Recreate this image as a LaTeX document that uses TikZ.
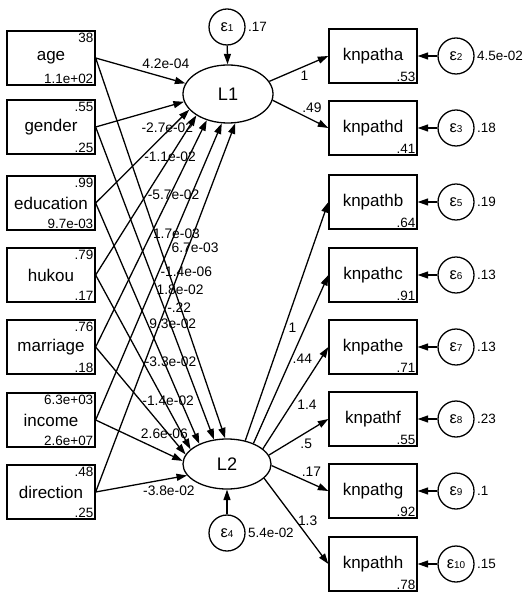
\documentclass[tikz,border=0pt]{standalone}
\usepackage{fontspec}
\setmainfont{Liberation Sans}
\usetikzlibrary{arrows.meta,shapes.geometric}

\newcommand\namefont{\fontsize{14.5}{16}\selectfont}
\newcommand\numfont{\fontsize{11.5}{13}\selectfont}
\newcommand\coeffont{\fontsize{11.8}{13}\selectfont}
\newcommand\epsl[1]{{\fontsize{14}{15}\selectfont ε}{\fontsize{8.5}{9}\selectfont #1}}

\begin{document}
\begin{tikzpicture}[x=0.03cm, y=-0.03cm, line width=1.1pt,
    >={Triangle[length=9pt,width=6pt]},
    obs/.style={draw, minimum width=2.64cm, minimum height=1.62cm, inner sep=0pt, font=\namefont},
    lat/.style={draw, ellipse, inner sep=0pt, font=\fontsize{15.5}{17}\selectfont},
    err/.style={draw, circle, minimum size=1.08cm, inner sep=0pt},
    num/.style={font=\numfont, inner sep=1.5pt},
    coef/.style={font=\coeffont, pos=0.5, inner sep=1pt}]
  \useasboundingbox (0,0) rectangle (529,599);
  % observed exogenous variables
  \foreach \nm/\y/\mean/\var in {age/58/38/1.1e+02, gender/127/.55/.25,
      education/203/.99/9.7e-03, hukou/275/.79/.17, marriage/347/.76/.18,
      income/420/6.3e+03/2.6e+07, direction/492/.48/.25}
    \node[obs, label={[num,anchor=north east]north east:\mean},
      label={[num,anchor=south east]south east:\var}] (\nm) at (51,\y) {\nm};
  % latent variables and their errors
  \node[lat, minimum width=2.7cm, minimum height=1.74cm] (L1) at (228,94) {L1};
  \node[lat, minimum width=2.64cm, minimum height=1.5cm] (L2) at (227,464) {L2};
  \node[err, label={[num]right:.17}] (e1) at (227,27) {\epsl{1}};
  \node[err, label={[num]right:5.4e-02}] (e4) at (227,533) {\epsl{4}};
  \draw[->] (e1) -- (L1);
  \draw[->] (e4) -- (L2);
  % measurements with errors
  \foreach \nm/\y/\var/\e/\ev in {knpatha/56/.53/2/4.5e-02, knpathd/128/.41/3/.18,
      knpathb/202/.64/5/.19, knpathc/275/.91/6/.13, knpathe/347/.71/7/.13,
      knpathf/419/.55/8/.23, knpathg/491/.92/9/.1, knpathh/564/.78/10/.15} {
    \node[obs, label={[num,anchor=south east]south east:\var}] (\nm) at (373,\y) {\nm};
    \node[err, label={[num]right:\ev}] (e\e) at (456,\y) {\epsl{\e}};
    \draw[->] (e\e) -- (\nm);
  }
  % paths into L1 and L2
  \foreach \src/\ang/\val/\anc/\dy in {age/166/4.2e-04/south west/0, gender/190/-2.7e-02/north west/-6,
      education/202/-1.1e-02/west/0, hukou/214/-5.7e-02/west/0, marriage/231/1.7e-03/west/0,
      income/258/-1.4e-06/west/0, direction/284/-.22/west/0}
    \draw[->] (\src.east) -- (L1.\ang) node[coef, anchor=\anc, yshift=\dy pt] {\val};
  \foreach \src/\ang/\val/\anc/\dx in {age/94/6.7e-03/west/8, gender/118/1.8e-02/north west/0,
      education/144/9.3e-02/west/0, hukou/158/-3.3e-02/west/0, marriage/167/-1.4e-02/west/0,
      income/176/2.6e-06/south west/0, direction/196/-3.8e-02/north west/0}
    \draw[->] (\src.east) -- (L2.\ang) node[coef, anchor=\anc, xshift=\dx pt] {\val};
  % loadings
  \foreach \ind/\ang/\val/\anc in {knpatha/17/1/north west, knpathd/352/.49/south west}
    \draw[->] (L1.\ang) -- (\ind.west) node[coef, anchor=\anc] {\val};
  \foreach \ind/\ang/\val/\anc in {knpathb/52/1/north west, knpathc/38/.44/west,
      knpathe/23/1.4/north west, knpathf/12/.5/north west, knpathg/-2/.17/south west,
      knpathh/-21/1.3/west}
    \draw[->] (L2.\ang) -- (\ind.west) node[coef, anchor=\anc] {\val};
\end{tikzpicture}
\end{document}
